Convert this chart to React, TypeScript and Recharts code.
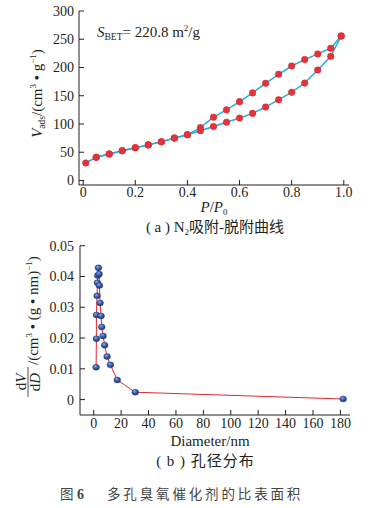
import React from 'react';
import { LineChart, Line, XAxis, YAxis } from 'recharts';

// ---- (a) N2 adsorption-desorption isotherm ----
const adsorptionPressure = [0.01, 0.05, 0.1, 0.15, 0.2, 0.25, 0.3, 0.35, 0.4, 0.45, 0.5, 0.55, 0.6, 0.65, 0.7, 0.75, 0.8, 0.85, 0.9, 0.95, 0.99];
const adsorptionVolume = [31, 41, 47, 52.6, 58, 63, 68.5, 75, 81, 88, 95.5, 103, 110.5, 118.7, 130, 143, 156, 172.5, 195.5, 219.7, 255.7];
const desorptionPressure = [0.05, 0.1, 0.15, 0.2, 0.25, 0.3, 0.35, 0.4, 0.45, 0.5, 0.55, 0.6, 0.65, 0.7, 0.75, 0.8, 0.85, 0.9, 0.95, 0.99];
const desorptionVolume = [41, 47, 52.6, 58, 63, 68.5, 75, 81, 93.5, 112, 125, 139.5, 155, 172, 188, 202.6, 214, 224, 234, 255.7];
const isoXTicks = [0, 0.2, 0.4, 0.6, 0.8, 1.0];
const isoYTicks = [0, 50, 100, 150, 200, 250, 300];

// ---- (b) pore size distribution ----
const poreDiameter = [1.75, 1.96, 1.96, 2.47, 2.69, 2.91, 3.42, 3.93, 4.15, 4.66, 5.38, 5.82, 6.84, 8.0, 9.75, 12.15, 17.2, 30.3, 182];
const poreVolume = [0.0105, 0.0198, 0.0275, 0.0337, 0.038, 0.0403, 0.0428, 0.0408, 0.0371, 0.0314, 0.0272, 0.0236, 0.0207, 0.0177, 0.014, 0.0113, 0.0064, 0.0024, 0.0002];
const poreXTicks = [0, 20, 40, 60, 80, 100, 120, 140, 160, 180];
const poreYTicks = [0, 0.01, 0.02, 0.03, 0.04, 0.05];

const adsData = adsorptionPressure.map((x, i) => ({ x, y: adsorptionVolume[i] }));
const desData = desorptionPressure.map((x, i) => ({ x, y: desorptionVolume[i] }));
const poreData = poreDiameter.map((x, i) => ({ x, y: poreVolume[i] }));

const SERIF = '"Liberation Serif", "Times New Roman", Times, "DejaVu Serif", serif';
const MIXED = '"Liberation Serif", "Times New Roman", "Noto Sans CJK SC", serif';
const INK = '#231f20';
const tickStyle = { fontSize: 14, fill: INK, fontFamily: SERIF };
const axisLine = { stroke: INK, strokeWidth: 1 };

const BallDot = (props: any) => {
  const { cx, cy, index } = props;
  if (cx == null || cy == null) return <g key={`b${index}`} />;
  return <ellipse key={`b${index}`} cx={cx} cy={cy} rx={3.4} ry={3} fill="url(#ballGrad)" stroke="#1d3274" strokeWidth={0.4} />;
};

export default function App() {
  return (
    <div style={{ position: 'absolute', left: 0, top: 0, width: 376, height: 508, background: '#fff' }}>
      <div style={{ position: 'absolute', left: 0, top: 0 }}>
        <LineChart width={376} height={240} margin={{ top: 11, right: 27, left: 0, bottom: 0 }}>
          <XAxis type="number" dataKey="x" domain={[-0.016, 1.02]} allowDataOverflow ticks={isoXTicks} interval={0}
            tickFormatter={(v: number) => (v === 0 ? '0' : v.toFixed(1))} tick={tickStyle} tickSize={-5} tickMargin={7}
            tickLine={{ stroke: INK }} axisLine={axisLine} height={55} />
          <XAxis xAxisId="top" orientation="top" type="number" domain={[-0.016, 1.02]} tick={false} tickLine={false} axisLine={axisLine} height={0} />
          <YAxis type="number" domain={[-8, 300]} allowDataOverflow ticks={isoYTicks} interval={0} tick={tickStyle}
            tickSize={-5} tickMargin={10} tickLine={{ stroke: INK }} axisLine={axisLine} width={79} />
          <YAxis yAxisId="right" orientation="right" type="number" domain={[-8, 300]} tick={false} tickLine={false} axisLine={axisLine} width={0} />
          <Line data={desData} dataKey="y" type="linear" stroke="#25ade0" strokeWidth={1.5}
            dot={{ r: 3.3, fill: '#e4323a', stroke: '#d02a32', strokeWidth: 0.5 }} isAnimationActive={false} />
          <Line data={adsData} dataKey="y" type="linear" stroke="#25ade0" strokeWidth={1.5}
            dot={{ r: 3.3, fill: '#e4323a', stroke: '#d02a32', strokeWidth: 0.5 }} isAnimationActive={false} />
        </LineChart>
      </div>
      <div style={{ position: 'absolute', left: 0, top: 240 }}>
        <LineChart width={376} height={200} margin={{ top: 5.7, right: 26, left: 0, bottom: 0 }}>
          <XAxis type="number" dataKey="x" domain={[-10, 187]} allowDataOverflow ticks={poreXTicks} interval={0}
            tick={tickStyle} tickSize={-5} tickMargin={8.5} tickLine={{ stroke: INK }} axisLine={axisLine} height={25} />
          <XAxis xAxisId="top" orientation="top" type="number" domain={[-10, 187]} tick={false} tickLine={false} axisLine={axisLine} height={0} />
          <YAxis type="number" domain={[-0.005, 0.05]} allowDataOverflow ticks={poreYTicks} interval={0}
            tickFormatter={(v: number) => (v === 0 ? '0' : v.toFixed(2))} tick={tickStyle} tickSize={-5} tickMargin={11}
            tickLine={{ stroke: INK }} axisLine={axisLine} width={80} />
          <YAxis yAxisId="right" orientation="right" type="number" domain={[-0.005, 0.05]} tick={false} tickLine={false} axisLine={axisLine} width={0} />
          <Line data={poreData} dataKey="y" type="linear" stroke="#e2262b" strokeWidth={1}
            dot={<BallDot />} isAnimationActive={false} />
        </LineChart>
      </div>
      <svg width={376} height={508} style={{ position: 'absolute', left: 0, top: 0, pointerEvents: 'none' }}>
        <defs>
          <radialGradient id="ballGrad" cx="40%" cy="35%" r="70%">
            <stop offset="0%" stopColor="#8fa9e0" />
            <stop offset="45%" stopColor="#3b5fb0" />
            <stop offset="100%" stopColor="#1a3070" />
          </radialGradient>
        </defs>
        {/* S_BET annotation */}
        <text x={97} y={37} fontSize={15} fill={INK} fontFamily={SERIF}>
          <tspan fontStyle="italic">S</tspan>
          <tspan fontSize={9.5} dy={3}>BET</tspan>
          <tspan dy={-3}>= 220.8 m</tspan>
          <tspan fontSize={9} dy={-6}>2</tspan>
          <tspan dy={6}>/g</tspan>
        </text>
        {/* (a) y label */}
        <text transform="rotate(-90)" x={-93.5} y={41.5} fontSize={15} fill={INK} fontFamily={SERIF} textAnchor="middle">
          <tspan fontStyle="italic">V</tspan>
          <tspan fontSize={9.5} dy={3}>ads</tspan>
          <tspan dy={-3}>/(cm</tspan>
          <tspan fontSize={9} dy={-6}>3</tspan>
          <tspan dy={6}> • g</tspan>
          <tspan fontSize={9} dy={-6}>−1</tspan>
          <tspan dy={6}>)</tspan>
        </text>
        {/* (a) x label */}
        <text x={214} y={211.5} fontSize={15} fill={INK} fontFamily={SERIF} textAnchor="middle">
          <tspan fontStyle="italic">P</tspan>
          <tspan>/</tspan>
          <tspan fontStyle="italic">P</tspan>
          <tspan fontSize={9} dy={3}>0</tspan>
        </text>
        {/* (a) caption */}
        <text x={215} y={231.5} fontSize={15} fill={INK} fontFamily={MIXED} textAnchor="middle">
          <tspan>( a ) N</tspan>
          <tspan fontSize={9} dy={3}>2</tspan>
          <tspan dy={-3}>吸附-脱附曲线</tspan>
        </text>
        {/* (b) y label: dV/dD fraction */}
        <text transform="rotate(-90)" x={-382} y={26} fontSize={15} fill={INK} fontFamily={SERIF} textAnchor="middle">
          <tspan>d</tspan><tspan fontStyle="italic">V</tspan>
        </text>
        <line x1={28} y1={367} x2={28} y2={397} stroke={INK} strokeWidth={0.8} />
        <text transform="rotate(-90)" x={-382} y={40} fontSize={15} fill={INK} fontFamily={SERIF} textAnchor="middle">
          <tspan>d</tspan><tspan fontStyle="italic">D</tspan>
        </text>
        <text transform="rotate(-90)" x={-365} y={37.5} fontSize={15} fill={INK} fontFamily={SERIF} textAnchor="start">
          <tspan>/(cm</tspan>
          <tspan fontSize={9} dy={-6}>3</tspan>
          <tspan dy={6}> • (g • nm)</tspan>
          <tspan fontSize={9} dy={-6}>−1</tspan>
          <tspan dy={6}>)</tspan>
        </text>
        {/* (b) x label */}
        <text x={210} y={446} fontSize={15} fill={INK} fontFamily={SERIF} textAnchor="middle">Diameter/nm</text>
        {/* (b) caption */}
        <text x={205.5} y={466} fontSize={15} fill={INK} fontFamily={MIXED} textAnchor="middle" letterSpacing={1}>( b ) 孔径分布</text>
        {/* figure caption */}
        <text x={60} y={498.5} fontSize={13.5} fill="#444" fontFamily={MIXED}>图</text>
        <text x={77} y={498.5} fontSize={14} fill="#444" fontFamily={SERIF} fontWeight="bold">6</text>
        <text x={107} y={498.5} fontSize={13.5} fill="#444" fontFamily={MIXED} letterSpacing={2.85}>多孔臭氧催化剂的比表面积</text>
      </svg>
    </div>
  );
}
